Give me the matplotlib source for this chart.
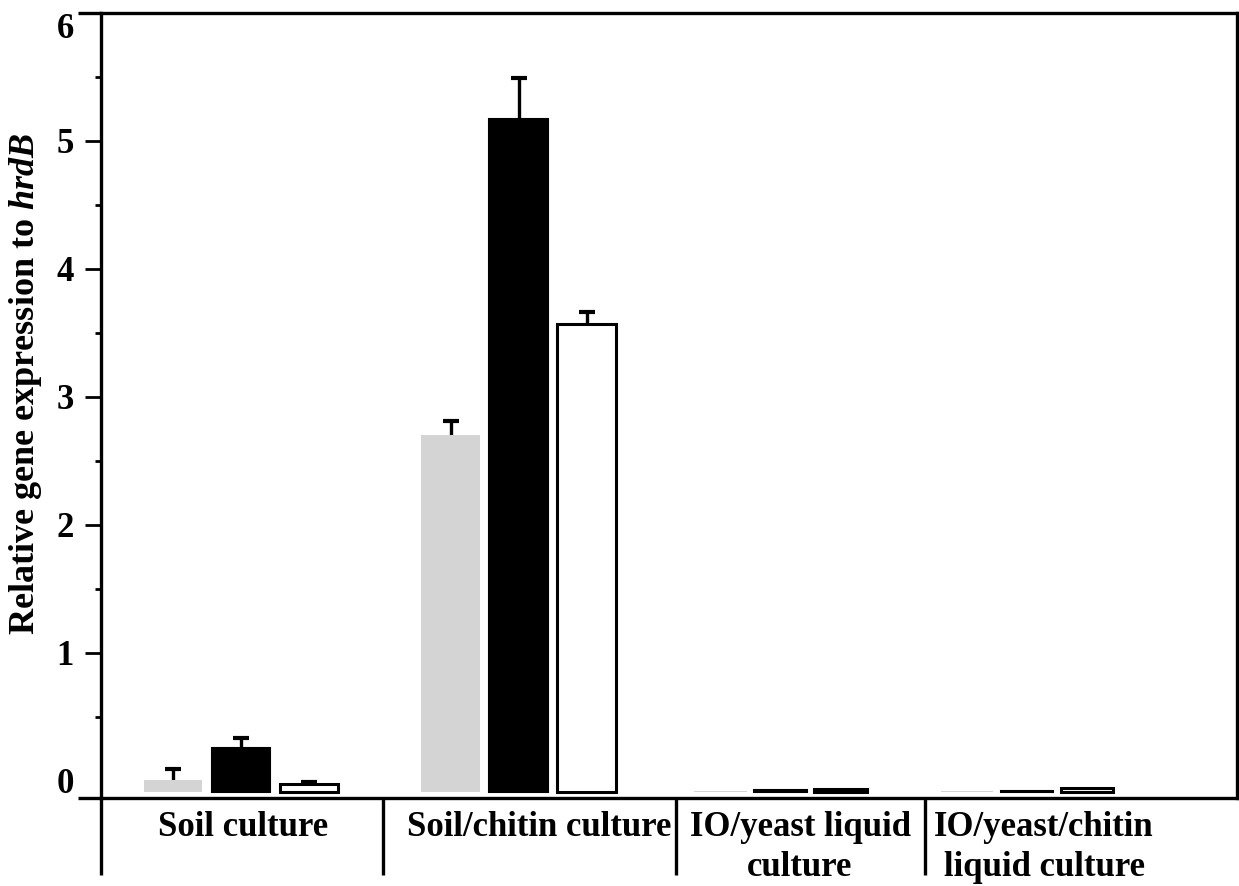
import numpy as np
import matplotlib.pyplot as plt
from matplotlib.ticker import MultipleLocator

plt.rcParams['font.family'] = ['Liberation Serif', 'DejaVu Serif']
plt.rcParams['font.weight'] = 'bold'
plt.rcParams['mathtext.fontset'] = 'custom'
plt.rcParams['mathtext.it'] = 'Liberation Serif:italic:bold'
plt.rcParams['mathtext.rm'] = 'Liberation Serif:bold'

groups = ['Soil culture', 'Soil/chitin culture',
          'IO/yeast liquid\nculture', 'IO/yeast/chitin\nliquid culture']

# bar heights above the baseline, and upper error
gray = [0.094, 2.79, 0.004, 0.004]
black = [0.34, 5.26, 0.012, 0.008]
white = [0.06, 3.66, 0.025, 0.028]
gray_err = [0.086, 0.11, 0, 0]
black_err = [0.08, 0.32, 0, 0]
white_err = [0.02, 0.09, 0, 0]

# layout of the groups along the x axis
centers = np.array([1.40, 4.175, 6.79, 9.26])
spacing = np.array([0.68, 0.68, 0.60, 0.60])
widths = np.array([0.58, 0.59, 0.53, 0.52])
dividers = [0, 2.82, 5.75, 8.24]
label_x = [1.42, 4.38, 6.99, 9.43]
base = -0.086

fig = plt.figure(figsize=(12.39, 8.86), dpi=100)
ax = fig.add_axes([101 / 1239, 1 - 798 / 886, 1136 / 1239, 785 / 886])

series = [
    (centers - spacing, gray, gray_err, dict(color='#d4d4d4', edgecolor='none')),
    (centers, black, black_err, dict(color='black', edgecolor='black', linewidth=1.5)),
    (centers + spacing, white, white_err, dict(color='white', edgecolor='black', linewidth=2.2)),
]

for x, h, err, style in series:
    h = np.array(h)
    err = np.array(err)
    ax.bar(x, h, widths, bottom=base, zorder=3, **style)
    # upper error only: stem plus a cap on top
    show = err > 0
    top = base + h
    ax.vlines(x[show], top[show], top[show] + err[show], color='black',
              lw=2.4, zorder=2)
    ax.plot(x[show], top[show] + err[show], ls='none', marker='_',
            ms=11, mew=3, color='black', zorder=2)

ax.set_xlim(0, 11.36)
ax.set_ylim(-0.133, 6.0)

for s in ax.spines.values():
    s.set_linewidth(2.4)

ax.set_xticks([])
ax.set_yticks(range(7))
ax.yaxis.set_minor_locator(MultipleLocator(0.5))
ax.tick_params(axis='y', which='major', length=11.5, width=2, pad=8,
               labelsize=25, direction='out')
ax.tick_params(axis='y', which='minor', length=4.5, width=2, direction='out')
ax.yaxis.get_major_ticks()[0].tick1line.set_visible(False)
ax.yaxis.get_major_ticks()[-1].tick1line.set_visible(False)
for lbl in ax.get_yticklabels():
    lbl.set_fontweight('bold')
ax.get_yticklabels()[-1].set_va('top')

fig.text(26 / 1239, 1 - 384 / 886,
         r'Relative gene expression to $\mathit{hrdB}$',
         rotation=90, ha='center', va='center',
         fontsize=26, fontweight='bold')

# top and bottom lines run a little past the y axis
ax.plot([-0.02, 0], [1, 1], transform=ax.transAxes, color='black',
        lw=2.4, clip_on=False, solid_capstyle='butt')
ax.plot([-0.02, 0], [0, 0], transform=ax.transAxes, color='black',
        lw=2.4, clip_on=False, solid_capstyle='butt')

# group dividers below the x axis
trans = ax.get_xaxis_transform()
for d in dividers:
    ax.plot([d, d], [0, -0.098], transform=trans, color='black',
            lw=2.4, clip_on=False, solid_capstyle='butt')

for x, g in zip(label_x, groups):
    ax.text(x, -0.017, g, transform=trans, ha='center', va='top',
            fontsize=25, fontweight='bold', linespacing=1.25)

fig.savefig('out.png', dpi=100)
